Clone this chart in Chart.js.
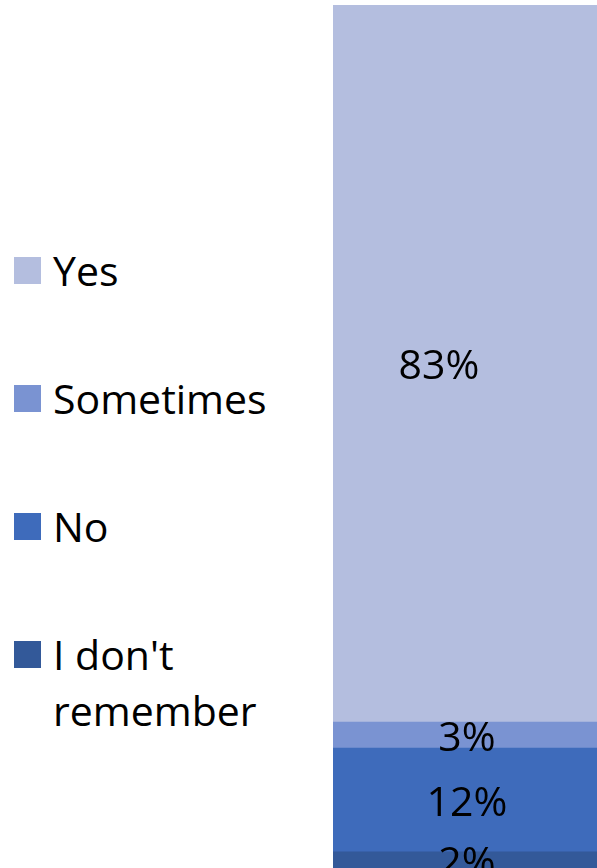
<!DOCTYPE html>
<html>
<head>
<meta charset="utf-8">
<script src="https://cdn.jsdelivr.net/npm/chart.js@4/dist/chart.umd.min.js"></script>
<style>
  html, body { margin: 0; padding: 0; background: #fff; overflow: hidden; width: 597px; height: 868px; }
  #wrap { position: absolute; left: 333px; top: 5px; width: 268px; height: 864px; }
  #legend { position: absolute; left: 0; top: 0; font-family: "Open Sans", sans-serif; font-size: 41px; color: #000; }
  .leg-item { position: absolute; left: 14px; width: 300px; }
  .leg-box { position: absolute; left: 0; top: 0; width: 27px; height: 27px; }
  .leg-text { position: absolute; left: 39px; top: -15px; width: 235px; line-height: 56px; white-space: normal; }
</style>
</head>
<body>
<div id="legend"></div>
<div id="wrap"><canvas id="grafico" width="268" height="864"></canvas></div>
<script>
// series, de baixo para cima na pilha
var categorias = ["Q1"];
var series     = ["I don't remember", "No", "Sometimes", "Yes"];
var valores    = [2, 12, 3, 83];
var cores      = ["#335999", "#3e6bbb", "#7a93d2", "#b4bedf"];

// legenda em html (ordem inversa: Yes no topo)
var legendaHTML = "";
for (var i = series.length - 1, n = 0; i >= 0; i--, n++) {
  legendaHTML += '<div class="leg-item" style="top:' + (257 + n * 128) + 'px">' +
    '<div class="leg-box" style="background:' + cores[i] + '"></div>' +
    '<div class="leg-text">' + series[i] + '</div></div>';
}
document.getElementById("legend").innerHTML = legendaHTML;

// rótulos no meio de cada pedaço
var rotulosPlugin = {
  id: "rotulos",
  afterDatasetsDraw: function(chart, args, opts) {
    var ctx = chart.ctx;
    ctx.save();
    ctx.font = "41px 'Open Sans', sans-serif";
    ctx.fillStyle = "#000";
    ctx.textAlign = "center";
    ctx.textBaseline = "middle";
    chart.data.datasets.forEach(function(ds, di) {
      var meta = chart.getDatasetMeta(di);
      meta.data.forEach(function(bar, j) {
        var dx = (opts.dx && opts.dx[di]) || 0;
        ctx.fillText(ds.data[j] + "%", bar.x + dx, (bar.y + bar.base) / 2 + 4);
      });
    });
    ctx.restore();
  }
};

new Chart(document.getElementById("grafico"), {
  type: "bar",
  data: {
    labels: categorias,
    datasets: series.map(function(s, i) {
      return { label: s, data: [valores[i]], backgroundColor: cores[i], borderWidth: 0,
               barPercentage: 1, categoryPercentage: 1 };
    })
  },
  options: {
    responsive: false, animation: false,
    layout: { padding: 0 },
    plugins: { legend: { display: false }, tooltip: { enabled: false }, rotulos: { dx: [0, 0, 0, -28] } },
    scales: {
      x: { stacked: true, display: false },
      y: { stacked: true, display: false, min: 0, max: 100 }
    }
  },
  plugins: [rotulosPlugin]
});
</script>
</body>
</html>
